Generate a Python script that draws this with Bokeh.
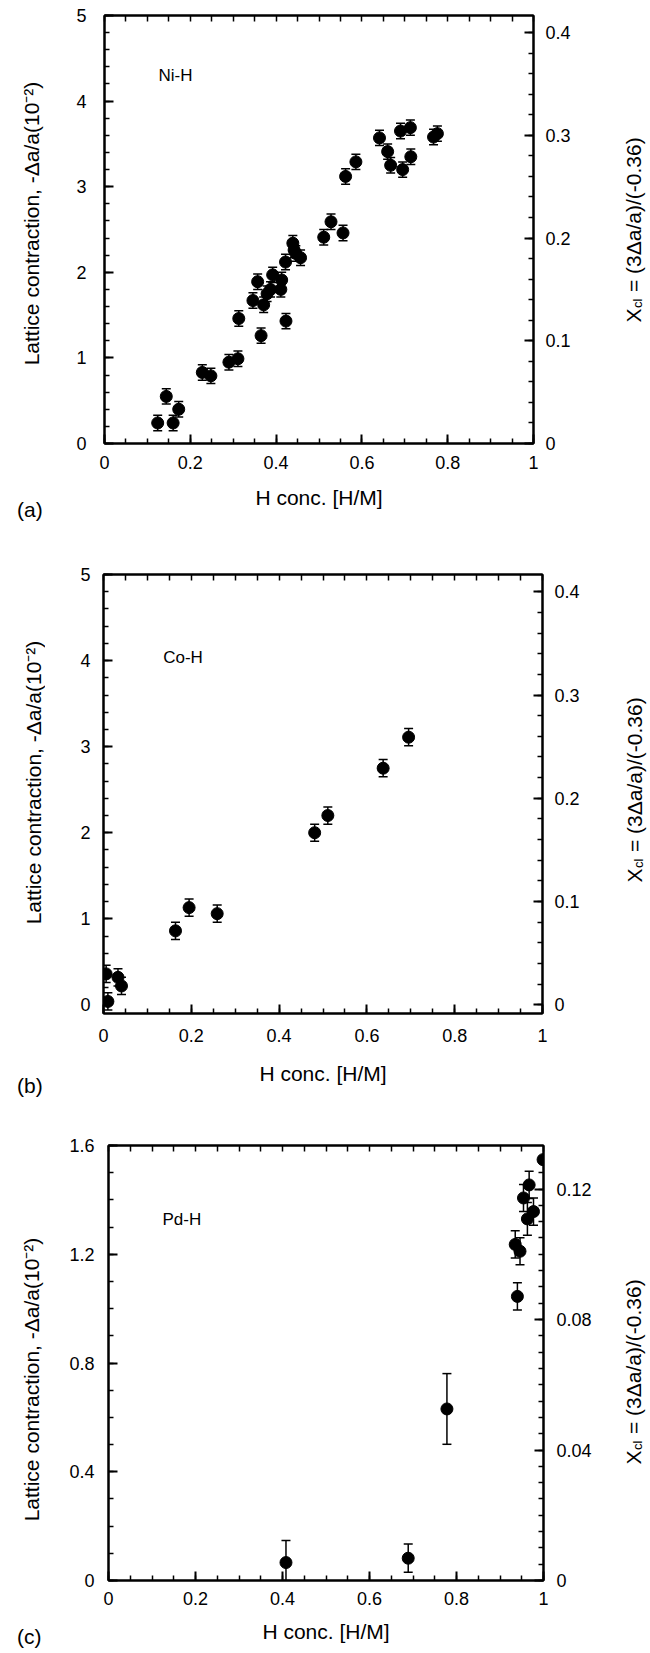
import numpy as np
from bokeh.plotting import figure
from bokeh.models import (ColumnDataSource, Range1d, LinearAxis, FixedTicker,
                          Whisker, TeeHead, Label)
from bokeh.layouts import column, row
from bokeh.embed import file_html
from bokeh.resources import INLINE

FONT = "Liberation Sans"

# ---------------- data ----------------
ni_x = [0.124, 0.144, 0.160, 0.173, 0.228, 0.248, 0.290, 0.311, 0.313, 0.346,
        0.357, 0.365, 0.371, 0.379, 0.387, 0.392, 0.413, 0.411, 0.423, 0.422,
        0.439, 0.442, 0.446, 0.457, 0.511, 0.528, 0.556, 0.562, 0.586, 0.641,
        0.660, 0.667, 0.690, 0.695, 0.713, 0.714, 0.767, 0.776]
ni_y = [0.24, 0.55, 0.24, 0.40, 0.83, 0.79, 0.95, 0.99, 1.46, 1.67,
        1.89, 1.26, 1.62, 1.75, 1.80, 1.97, 1.91, 1.80, 1.43, 2.12,
        2.34, 2.26, 2.22, 2.17, 2.41, 2.59, 2.46, 3.12, 3.29, 3.57,
        3.41, 3.25, 3.65, 3.20, 3.69, 3.35, 3.58, 3.62]
ni_err = [0.09] * len(ni_x)

co_x = [0.006, 0.010, 0.033, 0.041, 0.164, 0.195, 0.259, 0.481, 0.511, 0.637, 0.695]
co_y = [0.36, 0.04, 0.32, 0.22, 0.86, 1.13, 1.06, 2.00, 2.20, 2.75, 3.11]
co_err = [0.10] * len(co_x)

pd_x = [0.408, 0.689, 0.778, 0.935, 0.946, 0.940, 0.954, 0.967, 0.963, 0.977, 0.999]
pd_y = [0.066, 0.082, 0.631, 1.236, 1.211, 1.045, 1.407, 1.455, 1.330, 1.357, 1.548]
pd_err = [0.081, 0.052, 0.130, 0.050, 0.050, 0.050, 0.050, 0.050, 0.060, 0.050, 0.0]

x_ticks = [0, 0.2, 0.4, 0.6, 0.8, 1]
x_tick_labels = ["0", "0.2", "0.4", "0.6", "0.8", "1"]
ab_left_ticks = [0, 1, 2, 3, 4, 5]
ab_left_labels = ["0", "1", "2", "3", "4", "5"]
ab_right_ticks = [0, 0.1, 0.2, 0.3, 0.4]
ab_right_labels = ["0", "0.1", "0.2", "0.3", "0.4"]
c_left_ticks = [0, 0.4, 0.8, 1.2, 1.6]
c_left_labels = ["0", "0.4", "0.8", "1.2", "1.6"]
c_right_ticks = [0, 0.04, 0.08, 0.12]
c_right_labels = ["0", "0.04", "0.08", "0.12"]

y_label = "Lattice contraction, -\u0394a/a(10\u207b\u00b2)"
x_label = "H conc. [H/M]"
right_label_parts = ["X", "cl", "= (3\u0394a/a)/(-0.36)"]
xcl_factor = 12.0   # X_cl = (3*0.01*v)/0.36 = v/12

SIDE_L = 45
SIDE_R = 45
MAIN_W = 650 - SIDE_L - SIDE_R
TICK_FS = "18px"
LABEL_FS = "21px"


def mk(lo, hi, step):
    return [round(float(v), 5) for v in np.arange(lo, hi + step / 2, step)]


def no_align(f):
    try:
        f.frame_align = False
    except Exception:
        pass


def style_axis(ax):
    ax.axis_line_width = 2
    ax.axis_line_color = "black"
    ax.major_tick_line_width = 2
    ax.minor_tick_line_width = 1.5
    ax.major_tick_in = 9
    ax.major_tick_out = 0
    ax.minor_tick_in = 5
    ax.minor_tick_out = 0
    ax.major_label_text_font = FONT
    ax.major_label_text_font_size = TICK_FS
    ax.major_label_text_color = "black"
    ax.axis_label_text_font = FONT
    ax.axis_label_text_font_size = LABEL_FS
    ax.axis_label_text_font_style = "normal"
    ax.axis_label_text_color = "black"


def side_fig(w, h):
    f = figure(width=w, height=h, x_range=Range1d(0, w), y_range=Range1d(h, 0),
               output_backend="svg", toolbar_location=None, title=None,
               x_axis_type=None, y_axis_type=None, min_border=0,
               min_border_left=0, min_border_right=0,
               min_border_top=0, min_border_bottom=0)
    f.outline_line_color = None
    f.background_fill_color = "white"
    f.border_fill_color = "white"
    no_align(f)
    return f


def txt(f, x, y, text, size, angle=0.0, align="left", xo=0):
    f.add_layout(Label(x=x, y=y, text=text, angle=angle, x_offset=xo,
                       text_font=FONT, text_font_size=size, text_color="black",
                       text_align=align, text_baseline="alphabetic"))


def panel(cfg, xs, ys, errs):
    y0, y1 = cfg["yr"]
    h = cfg["h"]
    bl = cfg["fl"] - SIDE_L
    br = MAIN_W - bl - cfg["fw"]
    bb = h - cfg["bt"] - cfg["fh"]
    p = figure(width=MAIN_W, height=h, x_range=Range1d(0, 1),
               y_range=Range1d(y0, y1), output_backend="svg",
               toolbar_location=None, title=None,
               min_border_left=bl, min_border_right=br,
               min_border_top=cfg["bt"], min_border_bottom=bb)
    no_align(p)
    p.xgrid.visible = False
    p.ygrid.visible = False
    p.outline_line_color = "black"
    p.outline_line_width = 2
    p.background_fill_color = "white"
    p.border_fill_color = "white"

    xa = p.xaxis[0]
    xa.ticker = FixedTicker(ticks=x_ticks, minor_ticks=mk(0, 1, 0.05))
    xa.major_label_overrides = dict(zip(x_ticks, x_tick_labels))
    style_axis(xa)
    xa.major_label_standoff = cfg["xls"]
    xa.axis_label = x_label
    xa.axis_label_standoff = cfg["xas"]

    top = LinearAxis(ticker=FixedTicker(ticks=[], minor_ticks=mk(0, 1, 0.05)))
    style_axis(top)
    top.minor_tick_in = 6
    top.major_label_standoff = 0
    p.add_layout(top, "above")

    ya = p.yaxis[0]
    ya.ticker = FixedTicker(ticks=cfg["lt"], minor_ticks=mk(0, cfg["lt"][-1], cfg["lm"]))
    ya.major_label_overrides = dict(zip(cfg["lt"], cfg["ll"]))
    style_axis(ya)
    ya.major_label_standoff = cfg["yls"]

    p.extra_y_ranges = {"xcl": Range1d(y0 / xcl_factor, y1 / xcl_factor)}
    ra = LinearAxis(y_range_name="xcl",
                    ticker=FixedTicker(ticks=cfg["rt"],
                                       minor_ticks=mk(0, y1 / xcl_factor, cfg["rm"])))
    ra.major_label_overrides = dict(zip(cfg["rt"], cfg["rl"]))
    style_axis(ra)
    ra.major_label_standoff = cfg["rls"]
    p.add_layout(ra, "right")

    upper = [y + e for y, e in zip(ys, errs)]
    lower = [max(y - e, y0) for y, e in zip(ys, errs)]
    src = ColumnDataSource(dict(x=xs, y=ys, upper=upper, lower=lower))
    p.add_layout(Whisker(source=src, base="x", upper="upper", lower="lower",
                         line_color="black", line_width=1.5,
                         upper_head=TeeHead(size=9, line_width=1.5, line_color="black"),
                         lower_head=TeeHead(size=9, line_width=1.5, line_color="black")))
    p.scatter("x", "y", source=src, marker="circle", size=12,
              fill_color="black", line_color="black")

    nx, ny, ntext = cfg["name"]
    txt(p, nx, ny, ntext, "17px")

    # left side: y-axis label (rotated) and panel letter
    lf = side_fig(SIDE_L, h)
    lx, lyc = cfg["ylab"]
    txt(lf, lx, lyc, y_label, LABEL_FS, angle=np.pi / 2, align="center")
    ax_, ay_, atext = cfg["letter"]
    txt(lf, ax_, ay_, atext, LABEL_FS)

    # right side: X_cl = (3Δa/a)/(-0.36), rotated, reading upward
    rf = side_fig(SIDE_R, h)
    rx, ry = cfg["rlab"]
    offs = [0.0, 14.5, 30.5]
    sizes = [LABEL_FS, "13px", LABEL_FS]
    xoff = [0, 4, 0]
    for part, o, s, xo in zip(right_label_parts, offs, sizes, xoff):
        txt(rf, rx, ry - o, part, s, angle=np.pi / 2, xo=xo)

    return row(lf, p, rf, spacing=0)


# geometry in page pixels (x relative to side figures / y relative to panel top)
cfg_a = dict(h=545, fl=104, fw=429, bt=15, fh=428, yr=(0, 5),
             lt=ab_left_ticks, ll=ab_left_labels, lm=0.2,
             rt=ab_right_ticks, rl=ab_right_labels, rm=0.02,
             xls=12, xas=14, yls=18, rls=12,
             name=(0.126, 4.30, "Ni-H"),
             ylab=(31, 223), letter=(16.6, 509, "(a)"), rlab=(28, 322))
cfg_b = dict(h=567, fl=103, fw=439, bt=29, fh=439, yr=(-0.1, 5),
             lt=ab_left_ticks, ll=ab_left_labels, lm=0.2,
             rt=ab_right_ticks, rl=ab_right_labels, rm=0.02,
             xls=15, xas=17, yls=13, rls=12,
             name=(0.136, 4.03, "Co-H"),
             ylab=(33, 237), letter=(16.6, 540, "(b)"), rlab=(29, 337))
cfg_c = dict(h=541, fl=108, fw=435, bt=33, fh=435, yr=(0, 1.6),
             lt=c_left_ticks, ll=c_left_labels, lm=0.1,
             rt=c_right_ticks, rl=c_right_labels, rm=0.005,
             xls=11, xas=12, yls=14, rls=13,
             name=(0.124, 1.327, "Pd-H"),
             ylab=(31, 267), letter=(16.6, 524, "(c)"), rlab=(28, 352))

ra_ = panel(cfg_a, ni_x, ni_y, ni_err)
rb_ = panel(cfg_b, co_x, co_y, co_err)
rc_ = panel(cfg_c, pd_x, pd_y, pd_err)

layout = column(ra_, rb_, rc_, spacing=0)
open("out.html", "w").write(file_html(layout, INLINE))
